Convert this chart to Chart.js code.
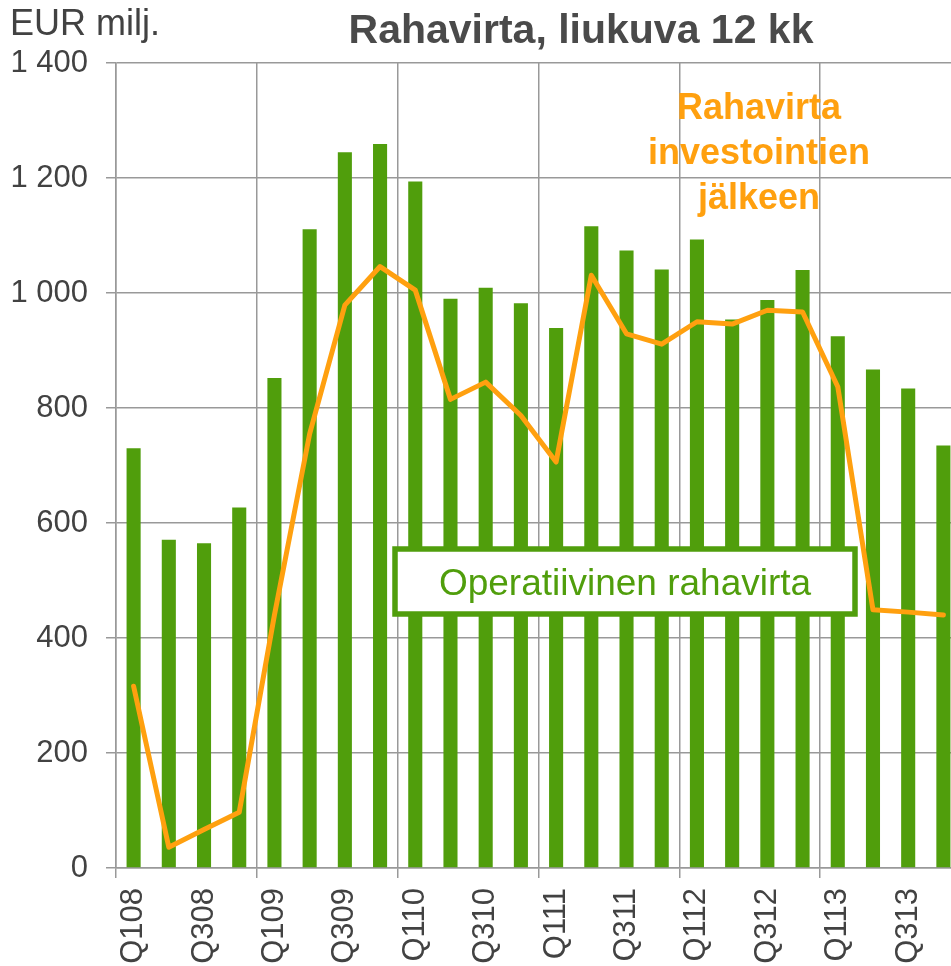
<!DOCTYPE html>
<html>
<head>
<meta charset="utf-8">
<script src="https://cdn.jsdelivr.net/npm/chart.js@4"></script>
<style>
  html, body { margin: 0; padding: 0; overflow: hidden; background: #fff; }
  #wrap { width: 961px; height: 966px; }
</style>
</head>
<body>
<div id="wrap"><canvas id="myChart" width="961" height="966"></canvas></div>
<script>
const quarters = ['Q108', 'Q208', 'Q308', 'Q408', 'Q109', 'Q209', 'Q309', 'Q409',
  'Q110', 'Q210', 'Q310', 'Q410', 'Q111', 'Q211', 'Q311', 'Q411',
  'Q112', 'Q212', 'Q312', 'Q412', 'Q113', 'Q213', 'Q313', 'Q413'];

// Operatiivinen rahavirta (bars)
const operativeCF = [730, 571, 565, 627, 852, 1111, 1245, 1259,
  1194, 990, 1009, 982, 939, 1116, 1074, 1041,
  1093, 954, 988, 1040, 925, 867, 834, 735];

// Rahavirta investointien jälkeen (line)
const cfAfterInvest = [316, 36, 67, 97, 440, 755, 979, 1046,
  1005, 815, 845, 787, 706, 1031, 929, 911,
  950, 946, 970, 967, 837, 449, 445, 440];

const yTicks = [0, 200, 400, 600, 800, 1000, 1200, 1400];

const green = '#509e0c';
const orange = '#ffa00f';
const gridCol = '#999999';
const textCol = '#424242';
const font = "'Liberation Sans', Arial, sans-serif";

function fmt(v) {
  return v >= 1000 ? Math.floor(v / 1000) + ' ' + String(v % 1000).padStart(3, '0') : String(v);
}

// title, unit and the two text labels
const textPlugin = {
  id: 'texts',
  afterDraw(chart) {
    const c = chart.ctx;
    c.save();
    c.textBaseline = 'alphabetic';

    c.fillStyle = textCol;
    c.textAlign = 'left';
    c.font = '36px ' + font;
    c.fillText('EUR milj.', 10, 35);

    c.fillStyle = '#4a4a4a';
    c.textAlign = 'center';
    c.font = 'bold 41px ' + font;
    c.fillText('Rahavirta, liukuva 12 kk', 581, 43);

    c.fillStyle = orange;
    c.font = 'bold 36px ' + font;
    c.fillText('Rahavirta', 759, 119);
    c.fillText('investointien', 759, 164);
    c.fillText('jälkeen', 759, 209);

    // box for the bar series
    c.fillStyle = '#fff';
    c.fillRect(395, 549, 460, 65);
    c.strokeStyle = green;
    c.lineWidth = 5.5;
    c.strokeRect(395, 549, 460, 65);
    c.fillStyle = green;
    c.font = '37px ' + font;
    c.fillText('Operatiivinen rahavirta', 625, 595);
    c.restore();
  }
};

const ctx = document.getElementById('myChart');

new Chart(ctx, {
  data: {
    labels: quarters,
    datasets: [
      {
        type: 'line',
        label: 'Rahavirta investointien jälkeen',
        data: cfAfterInvest,
        borderColor: orange,
        borderWidth: 5,
        borderJoinStyle: 'round',
        borderCapStyle: 'round',
        pointRadius: 0,
        tension: 0,
        fill: false,
        order: 0
      },
      {
        type: 'bar',
        label: 'Operatiivinen rahavirta',
        data: operativeCF,
        backgroundColor: green,
        categoryPercentage: 1,
        barPercentage: 0.4,
        order: 1
      }
    ]
  },
  options: {
    responsive: false,
    animation: false,
    layout: { padding: { top: 63, left: 0, right: 0, bottom: 0 } },
    plugins: {
      legend: { display: false },
      title: { display: false },
      tooltip: { enabled: false }
    },
    scales: {
      x: {
        offset: true,
        grid: {
          offset: true,
          color: (c) => c.index % 4 === 0 ? gridCol : 'rgba(0,0,0,0)',
          lineWidth: 1.5,
          tickLength: 10
        },
        border: { color: gridCol, width: 1.5 },
        ticks: {
          autoSkip: false,
          minRotation: 90,
          maxRotation: 90,
          padding: 10,
          color: textCol,
          font: { family: font, size: 31 },
          callback: function (v, i) { return i % 2 === 0 ? quarters[i] : ''; }
        },
        afterFit: (s) => {
          s.height = 98;
          s.paddingLeft = 0;
          s.paddingRight = 0;
        }
      },
      y: {
        min: 0,
        max: 1400,
        afterBuildTicks: (s) => { s.ticks = yTicks.map(v => ({ value: v })); },
        grid: { color: gridCol, lineWidth: 1.5, tickLength: 10 },
        border: { color: gridCol, width: 1.5 },
        ticks: {
          padding: 18,
          color: textCol,
          font: { family: font, size: 31 },
          callback: (v) => fmt(v)
        },
        afterFit: (s) => {
          s.width = 116;
          s.paddingTop = 0;
          s.paddingBottom = 0;
        }
      }
    }
  },
  plugins: [textPlugin]
});
</script>
</body>
</html>
